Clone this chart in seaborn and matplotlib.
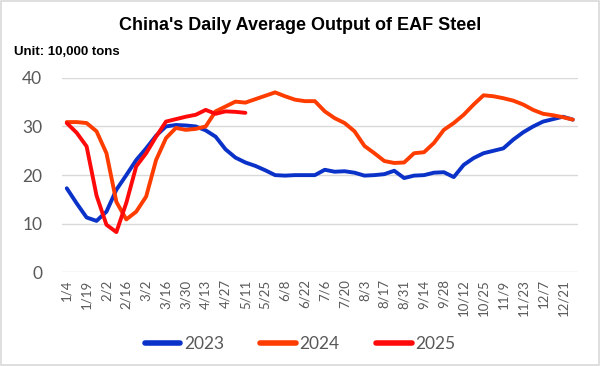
import numpy as np
import pandas as pd
import seaborn as sns
import matplotlib.pyplot as plt
from matplotlib.patches import Rectangle

# Weekly categories (labels shown every other week)
semanas = ['1/4', '1/11', '1/19', '1/26', '2/2', '2/9', '2/16', '2/23', '3/2', '3/9',
           '3/16', '3/23', '3/30', '4/6', '4/13', '4/20', '4/27', '5/4', '5/11', '5/18',
           '5/25', '6/1', '6/8', '6/15', '6/22', '6/29', '7/6', '7/13', '7/20', '7/27',
           '8/3', '8/10', '8/17', '8/24', '8/31', '9/7', '9/14', '9/21', '9/28', '10/5',
           '10/12', '10/19', '10/25', '11/2', '11/9', '11/16', '11/23', '11/30', '12/7',
           '12/14', '12/21', '12/28']

v2023 = [17.3, 14.2, 11.3, 10.6, 12.5, 17.0, 20.0, 23.1, 25.5, 28.1,
         30.0, 30.3, 30.2, 30.0, 29.2, 27.9, 25.3, 23.6, 22.6, 21.9,
         21.0, 20.0, 19.9, 20.0, 20.0, 20.0, 21.1, 20.7, 20.8, 20.5,
         19.9, 20.0, 20.2, 20.9, 19.4, 19.9, 20.0, 20.5, 20.6, 19.6,
         22.1, 23.5, 24.5, 25.0, 25.5, 27.3, 28.8, 30.0, 31.0, 31.5,
         32.0, 31.4]

v2024 = [30.9, 30.9, 30.7, 29.0, 24.5, 14.5, 10.9, 12.5, 15.6, 23.1,
         27.6, 29.7, 29.3, 29.5, 30.0, 33.1, 34.1, 35.1, 34.9, 35.6,
         36.3, 37.0, 36.2, 35.5, 35.2, 35.2, 33.1, 31.7, 30.7, 29.0,
         26.0, 24.5, 22.9, 22.5, 22.6, 24.5, 24.7, 26.6, 29.3, 30.7,
         32.4, 34.5, 36.4, 36.2, 35.8, 35.3, 34.5, 33.4, 32.6, 32.3,
         31.9, 31.4]

v2025 = [30.7, 28.7, 25.9, 15.8, 9.8, 8.3, 14.3, 21.8, 24.5, 27.9,
         31.0, 31.5, 32.0, 32.4, 33.4, 32.6, 33.1, 33.0, 32.8]

anios = ['2023', '2024', '2025']
colores = {'2023': '#0A32C8', '2024': '#FF3C00', '2025': '#FF0A0A'}

# Long-form table for seaborn
filas = []
for anio, valores in zip(anios, [v2023, v2024, v2025]):
    for i, v in enumerate(valores):
        filas.append({'idx': i, 'valor': v, 'anio': anio})
df = pd.DataFrame(filas)

sns.set_theme(style="white")
plt.rcParams['font.family'] = ['Lato', 'DejaVu Sans']

fig = plt.figure(figsize=(6, 3.66), dpi=100)
ax = fig.add_axes([0.103, 0.2555, 0.86, 0.532])

sns.lineplot(data=df, x='idx', y='valor', hue='anio', palette=colores,
             linewidth=2.8, ax=ax, legend=False, sort=False)

ax.set_xlim(-0.5, len(semanas) - 0.5)
ax.set_ylim(0, 40)
ax.set_yticks([0, 10, 20, 30, 40])
ax.set_xticks(np.arange(0, len(semanas), 2))
ax.set_xticklabels(semanas[::2], rotation=90)
ax.tick_params(axis='x', labelsize=9.5, colors='#595959', length=0, pad=5)
ax.tick_params(axis='y', labelsize=12.5, colors='#595959', length=0, pad=14)
ax.yaxis.grid(True, color='#D9D9D9', linewidth=1)
ax.set_axisbelow(True)
for s in ax.spines.values():
    s.set_visible(False)
ax.set_xlabel('')
ax.set_ylabel('')

fig.text(0.5, 0.929, "China's Daily Average Output of EAF Steel", ha='center', va='center',
         fontsize=13, fontweight='bold', family='Liberation Sans', color='black')
fig.text(0.024, 0.857, 'Unit: 10,000 tons', ha='left', va='center',
         fontsize=9.5, fontweight='bold', family='Liberation Sans', color='black')

# Legend at the bottom
handles = [plt.Line2D([], [], color=colores[a], linewidth=4) for a in anios]
fig.legend(handles, anios, loc='center', bbox_to_anchor=(0.5, 0.059), ncol=3,
           frameon=False, fontsize=12.5, labelcolor='#595959', handlelength=2.05,
           handletextpad=0.2, columnspacing=2.1)

# Thin frame around the image
fig.patches.append(Rectangle((0.002, 0.003), 0.996, 0.994, transform=fig.transFigure,
                             fill=False, edgecolor='#D9D9D9', linewidth=1.2))

fig.savefig('out.png', dpi=100)
